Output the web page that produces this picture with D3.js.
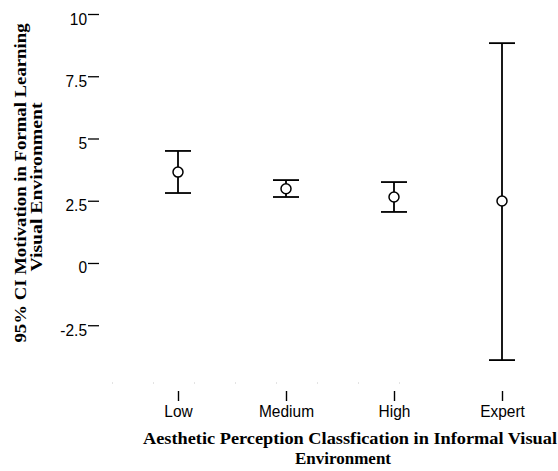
<!DOCTYPE html>
<html>
<head>
<meta charset="utf-8">
<script src="https://cdn.jsdelivr.net/npm/d3@7"></script>
<style>
  html, body { margin: 0; padding: 0; background: #fff; }
  svg { display: block; }
</style>
</head>
<body>
<svg id="chart" width="558" height="471"></svg>
<script>
// Groups along the x axis
const categories = ["Low", "Medium", "High", "Expert"];
// Group means and 95% confidence bounds
const means = [3.65, 2.98, 2.65, 2.49];
const lower = [2.81, 2.65, 2.05, -3.9];
const upper = [4.5, 3.33, 3.25, 8.83];
// Y axis ticks
const yTicks = [-2.5, 0, 2.5, 5, 7.5, 10];
const yTickLabels = ["-2.5", "0", "2.5", "5", "7.5", "10"];

const svg = d3.select("#chart");

const x = d3.scalePoint().domain(categories).range([124, 556]).padding(0.5);
const y = d3.scaleLinear().domain([-4.8, 10]).range([382.5, 14]);

const sans = "'Liberation Sans', Arial, sans-serif";
const serif = "'Liberation Serif', 'Times New Roman', serif";
const stretch = 1.12; // tick labels are drawn slightly tall

// Y axis: labels and short ticks, no domain line
const yAxis = d3.axisLeft(y)
  .tickValues(yTicks)
  .tickFormat((d, i) => yTickLabels[i])
  .tickSize(11);
const gy = svg.append("g").attr("transform", "translate(99,0)").call(yAxis);
gy.select(".domain").remove();
gy.selectAll(".tick line").attr("stroke", "#000").attr("stroke-width", 1.3);
gy.selectAll(".tick text")
  .attr("font-family", sans).attr("font-size", 15.5).attr("fill", "#000")
  .attr("x", -12).attr("dy", null)
  .attr("y", 10 / stretch)
  .attr("transform", `scale(1,${stretch})`);

// X axis: faint dotted baseline, ticks offset below it
const xAxis = d3.axisBottom(x).tickSize(0).tickPadding(0);
const gx = svg.append("g").attr("transform", "translate(0,383)").call(xAxis);
gx.select(".domain")
  .attr("stroke", "#c8c8c8")
  .attr("stroke-width", 1)
  .attr("stroke-dasharray", "1 40")
  .attr("d", "M112,0H440");
gx.selectAll(".tick").append("line")
  .attr("x1", 0).attr("x2", 0).attr("y1", 8).attr("y2", 18)
  .attr("stroke", "#000").attr("stroke-width", 1.4);
gx.selectAll(".tick text")
  .attr("font-family", sans).attr("font-size", 15.5).attr("fill", "#000")
  .attr("dy", null)
  .attr("y", 34 / stretch)
  .attr("transform", `scale(1,${stretch})`);

// Error bars with caps and hollow mean markers
const capHalf = 13;
const bars = svg.append("g").selectAll("g")
  .data(categories)
  .join("g");

bars.append("line")
  .attr("x1", d => x(d)).attr("x2", d => x(d))
  .attr("y1", (d, i) => y(upper[i])).attr("y2", (d, i) => y(lower[i]))
  .attr("stroke", "#000").attr("stroke-width", 1.8);
bars.append("line")
  .attr("x1", d => x(d) - capHalf).attr("x2", d => x(d) + capHalf)
  .attr("y1", (d, i) => y(upper[i])).attr("y2", (d, i) => y(upper[i]))
  .attr("stroke", "#000").attr("stroke-width", 1.8);
bars.append("line")
  .attr("x1", d => x(d) - capHalf).attr("x2", d => x(d) + capHalf)
  .attr("y1", (d, i) => y(lower[i])).attr("y2", (d, i) => y(lower[i]))
  .attr("stroke", "#000").attr("stroke-width", 1.8);
bars.append("circle")
  .attr("cx", d => x(d)).attr("cy", (d, i) => y(means[i]))
  .attr("r", 5)
  .attr("fill", "#fff").attr("stroke", "#000").attr("stroke-width", 1.5);

// Axis titles
const yTitle = svg.append("g")
  .attr("font-family", serif).attr("font-weight", "bold").attr("font-size", 17)
  .attr("fill", "#000").attr("text-anchor", "middle");
yTitle.append("text")
  .attr("transform", "translate(26,183) rotate(-90)")
  .attr("textLength", 319).attr("lengthAdjust", "spacingAndGlyphs")
  .text("95% CI Motivation in Formal Learning");
yTitle.append("text")
  .attr("transform", "translate(42,187) rotate(-90)")
  .attr("textLength", 169).attr("lengthAdjust", "spacingAndGlyphs")
  .text("Visual Environment");

const xTitle = svg.append("g")
  .attr("font-family", serif).attr("font-weight", "bold").attr("font-size", 17)
  .attr("fill", "#000").attr("text-anchor", "middle");
xTitle.append("text")
  .attr("x", 350).attr("y", 444)
  .attr("textLength", 414).attr("lengthAdjust", "spacingAndGlyphs")
  .text("Aesthetic Perception Classfication in Informal Visual");
xTitle.append("text")
  .attr("x", 343).attr("y", 464)
  .text("Environment");
</script>
</body>
</html>
